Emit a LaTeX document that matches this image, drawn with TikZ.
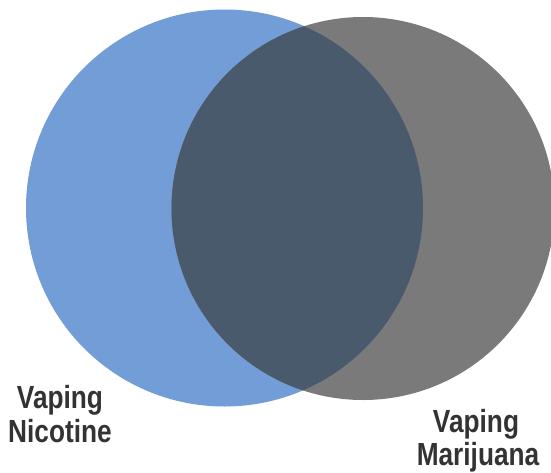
\documentclass[tikz,border=0pt]{standalone}
\usepackage{fontspec}
\setmainfont{Liberation Sans}
\definecolor{vblue}{HTML}{729DD6}
\definecolor{vgray}{HTML}{7A7A7A}
\definecolor{vover}{HTML}{4A5A6D}
\definecolor{vtext}{HTML}{333333}
\begin{document}
\begin{tikzpicture}[x=1pt,y=-1pt,
  lbl/.style={text=vtext, font=\bfseries\fontsize{32}{34}\selectfont, inner sep=0pt, anchor=base, xscale=0.82, transform shape}]
\useasboundingbox (0,0) rectangle (551,472);
\begin{scope}
\clip (0,0) rectangle (551,472);
\fill[vblue] (224.5,208) circle (198.5);
\fill[vgray] (363,208.5) circle (191.5);
\begin{scope}
\clip (224.5,208) circle (198.5);
\fill[vover] (363,208.5) circle (191.5);
\end{scope}
\end{scope}
\node[lbl] (n1) at (60,408) {Vaping};
\node[lbl] (n2) at (60,442) {Nicotine};
\node[lbl] (m1) at (476,432) {Vaping};
\node[lbl] (m2) at (478,465) {Marijuana};
\end{tikzpicture}
\end{document}
